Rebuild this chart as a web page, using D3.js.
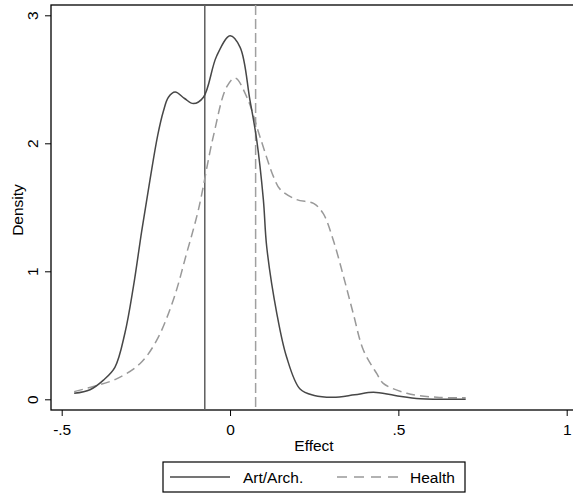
<!DOCTYPE html>
<html>
<head>
<meta charset="utf-8">
<script src="https://cdn.jsdelivr.net/npm/d3@7"></script>
<style>
  body { margin: 0; background: #fff; }
  text { font-family: "Liberation Sans", Arial, sans-serif; }
</style>
</head>
<body>
<div class="densityChart"></div>
<script>
// kernel density estimates (effect, density)
var artEffect  = [-0.463, -0.416, -0.376, -0.342, -0.312, -0.287, -0.262, -0.238, -0.215, -0.198, -0.183, -0.163, -0.135, -0.109, -0.079, -0.04, 0, 0.03, 0.059, 0.079, 0.099, 0.109, 0.139, 0.168, 0.208, 0.25, 0.306, 0.37, 0.426, 0.49, 0.565, 0.70];
var artDensity = [0.047, 0.075, 0.15, 0.25, 0.52, 0.88, 1.32, 1.71, 2.06, 2.25, 2.36, 2.40, 2.35, 2.31, 2.36, 2.68, 2.84, 2.75, 2.34, 2.03, 1.56, 1.19, 0.67, 0.33, 0.08, 0.03, 0.016, 0.035, 0.055, 0.03, 0.005, 0.0];

var healthEffect  = [-0.463, -0.406, -0.337, -0.267, -0.218, -0.168, -0.129, -0.094, -0.05, -0.01, 0.015, 0.05, 0.089, 0.129, 0.149, 0.198, 0.248, 0.277, 0.307, 0.337, 0.366, 0.396, 0.436, 0.455, 0.525, 0.614, 0.70];
var healthDensity = [0.06, 0.10, 0.16, 0.28, 0.46, 0.78, 1.14, 1.48, 2.05, 2.44, 2.51, 2.36, 2.05, 1.74, 1.64, 1.56, 1.53, 1.45, 1.24, 0.96, 0.67, 0.385, 0.20, 0.125, 0.047, 0.016, 0.012];

// means drawn as vertical reference lines
var artMean = -0.075;
var healthMean = 0.076;

var xTicks = [-0.5, 0, 0.5, 1];
var xTickLabels = ["-.5", "0", ".5", "1"];
var yTicks = [0, 1, 2, 3];
var yTickLabels = ["0", "1", "2", "3"];

var seriesNames = ["Art/Arch.", "Health"];

function drawDensity() {
  var width = 573, height = 496;
  var plot = { left: 51, top: 5, right: 574, bottom: 410 };
  var fontSize = "15.5px";

  var scaleX = d3.scaleLinear().domain([-0.5, 1]).range([61.7, 566.7]);
  var scaleY = d3.scaleLinear().domain([0, 3]).range([399.3, 15.3]);

  var svg = d3.select(".densityChart").append("svg")
      .attr("width", width)
      .attr("height", height);

  // plot region frame (right side falls outside the picture)
  svg.append("rect")
      .attr("x", plot.left)
      .attr("y", plot.top)
      .attr("width", plot.right - plot.left)
      .attr("height", plot.bottom - plot.top)
      .attr("fill", "none")
      .attr("stroke", "#000")
      .attr("stroke-width", 1.3);

  // x axis
  var xAxis = d3.axisBottom(scaleX)
      .tickValues(xTicks)
      .tickSize(6)
      .tickFormat(function(d, i) { return xTickLabels[i]; });
  var gx = svg.append("g")
      .attr("transform", "translate(0," + plot.bottom + ")")
      .call(xAxis);
  gx.select(".domain").remove();
  gx.selectAll(".tick line").attr("stroke", "#000");
  gx.selectAll(".tick text")
      .attr("y", 14)
      .style("font-size", fontSize)
      .attr("fill", "#000");

  // y axis
  var yAxis = d3.axisLeft(scaleY)
      .tickValues(yTicks)
      .tickSize(6)
      .tickFormat(function(d, i) { return yTickLabels[i]; });
  var gy = svg.append("g")
      .attr("transform", "translate(" + plot.left + ",0)")
      .call(yAxis);
  gy.select(".domain").remove();
  gy.selectAll(".tick line").attr("stroke", "#000");
  gy.selectAll(".tick text")
      .attr("x", 0)
      .attr("dy", 0)
      .attr("text-anchor", "middle")
      .attr("transform", "translate(-13,0) rotate(-90)")
      .style("font-size", fontSize)
      .attr("fill", "#000");

  // axis titles
  svg.append("text")
      .attr("x", 314)
      .attr("y", 451)
      .attr("text-anchor", "middle")
      .style("font-size", fontSize)
      .text("Effect");

  svg.append("text")
      .attr("transform", "translate(23,210) rotate(-90)")
      .attr("text-anchor", "middle")
      .style("font-size", fontSize)
      .text("Density");

  // mean lines
  svg.append("line")
      .attr("x1", scaleX(artMean)).attr("x2", scaleX(artMean))
      .attr("y1", plot.top).attr("y2", plot.bottom)
      .attr("stroke", "#5e5e5e")
      .attr("stroke-width", 1.5);
  svg.append("line")
      .attr("x1", scaleX(healthMean)).attr("x2", scaleX(healthMean))
      .attr("y1", plot.top).attr("y2", plot.bottom)
      .attr("stroke", "#a0a0a0")
      .attr("stroke-width", 1.5)
      .attr("stroke-dasharray", "10,4");

  var valueline = d3.line()
      .curve(d3.curveCatmullRom.alpha(0.5))
      .x(function(d) { return scaleX(d[0]); })
      .y(function(d) { return scaleY(d[1]); });

  var healthData = healthEffect.map(function(e, i) { return [e, healthDensity[i]]; });
  var artData = artEffect.map(function(e, i) { return [e, artDensity[i]]; });

  svg.append("path")
      .attr("d", valueline(healthData))
      .attr("fill", "none")
      .attr("stroke", "#999")
      .attr("stroke-width", 1.5)
      .attr("stroke-dasharray", "9,5");

  svg.append("path")
      .attr("d", valueline(artData))
      .attr("fill", "none")
      .attr("stroke", "#474747")
      .attr("stroke-width", 1.5);

  // legend
  var legend = svg.append("g");
  legend.append("rect")
      .attr("x", 163).attr("y", 462)
      .attr("width", 302).attr("height", 30)
      .attr("fill", "#fff")
      .attr("stroke", "#000")
      .attr("stroke-width", 1.2);
  legend.append("line")
      .attr("x1", 170).attr("x2", 230)
      .attr("y1", 477).attr("y2", 477)
      .attr("stroke", "#474747")
      .attr("stroke-width", 1.5);
  legend.append("text")
      .attr("x", 243).attr("y", 483)
      .style("font-size", fontSize)
      .text(seriesNames[0]);
  legend.append("line")
      .attr("x1", 337).attr("x2", 398)
      .attr("y1", 477).attr("y2", 477)
      .attr("stroke", "#999")
      .attr("stroke-width", 1.5)
      .attr("stroke-dasharray", "10,7");
  legend.append("text")
      .attr("x", 410).attr("y", 483)
      .style("font-size", fontSize)
      .text(seriesNames[1]);
}
drawDensity();
</script>
</body>
</html>
